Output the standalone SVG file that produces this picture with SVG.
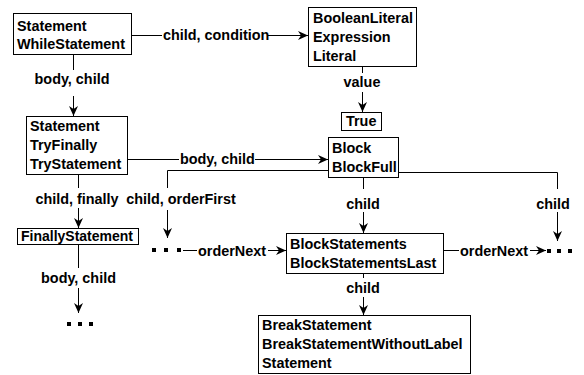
<svg xmlns="http://www.w3.org/2000/svg" width="584" height="375" viewBox="0 0 584 375">
<defs>
<marker id="ah" markerWidth="11" markerHeight="10" refX="10" refY="5" orient="auto" markerUnits="userSpaceOnUse">
<path d="M0,0.5 L10,5 L0,9.5 L3,5 z" fill="#000"/>
</marker>
<style>
text{font-family:"Liberation Sans",Arial,sans-serif;font-weight:bold;font-size:14.4px;fill:#000}
.m{text-anchor:middle}
rect.n{fill:#fff;stroke:#000;stroke-width:1}
.e{fill:none;stroke:#000;stroke-width:1}
.a{fill:none;stroke:#000;stroke-width:1;marker-end:url(#ah)}
.d{fill:#000}
</style>
</defs>
<rect width="584" height="375" fill="#fff"/>
<g id="connectors">
<line class="e" x1="131" y1="35.5" x2="162" y2="35.5"/>
<text x="163" y="40">child, condition</text>
<line class="a" x1="268" y1="35.5" x2="308" y2="35.5"/>
<line class="e" x1="73.5" y1="54" x2="73.5" y2="70"/>
<text class="m" x="72" y="84">body, child</text>
<line class="a" x1="73.5" y1="96" x2="73.5" y2="116"/>
<line class="e" x1="362.5" y1="67" x2="362.5" y2="73"/>
<text class="m" x="362" y="87">value</text>
<line class="a" x1="362.5" y1="92" x2="362.5" y2="112"/>
<line class="e" x1="127" y1="159.5" x2="179" y2="159.5"/>
<text x="180" y="164">body, child</text>
<line class="a" x1="255" y1="159.5" x2="328" y2="159.5"/>
<polyline class="e" points="328,170.5 167.5,170.5 167.5,188"/>
<text class="m" x="181" y="204">child, orderFirst</text>
<line class="a" x1="167.5" y1="210" x2="167.5" y2="238"/>
<line class="e" x1="78.5" y1="174" x2="78.5" y2="188"/>
<text class="m" x="77" y="204">child, finally</text>
<line class="a" x1="78.5" y1="208" x2="78.5" y2="228"/>
<line class="e" x1="78.5" y1="244" x2="78.5" y2="268"/>
<text class="m" x="78.5" y="283">body, child</text>
<line class="a" x1="78.5" y1="288" x2="78.5" y2="313"/>
<line class="e" x1="363.5" y1="177" x2="363.5" y2="189"/>
<text class="m" x="363" y="209">child</text>
<line class="a" x1="363.5" y1="212" x2="363.5" y2="233"/>
<polyline class="e" points="398,172.5 557.5,172.5 557.5,189"/>
<text class="m" x="553" y="209">child</text>
<line class="a" x1="557.5" y1="212" x2="557.5" y2="241"/>
<line class="e" x1="183" y1="250.5" x2="197" y2="250.5"/>
<text x="198" y="256">orderNext</text>
<line class="a" x1="268" y1="250.5" x2="286" y2="250.5"/>
<line class="e" x1="443" y1="250.5" x2="459" y2="250.5"/>
<text x="460" y="256">orderNext</text>
<line class="a" x1="530" y1="250.5" x2="546" y2="250.5"/>
<line class="e" x1="363.5" y1="273" x2="363.5" y2="278"/>
<text class="m" x="363" y="293">child</text>
<line class="a" x1="363.5" y1="297" x2="363.5" y2="315"/>
<rect class="d" x="152" y="248" width="4" height="4"/>
<rect class="d" x="164" y="248" width="4" height="4"/>
<rect class="d" x="177" y="248" width="4" height="4"/>
<rect class="d" x="547" y="249" width="4" height="4"/>
<rect class="d" x="557" y="249" width="4" height="4"/>
<rect class="d" x="568" y="249" width="4" height="4"/>
<rect class="d" x="67" y="322" width="4" height="4"/>
<rect class="d" x="78" y="322" width="4" height="4"/>
<rect class="d" x="89" y="322" width="4" height="4"/>
</g>
<g id="while">
<rect class="n" x="13.5" y="13.5" width="118" height="41"/>
<text x="17" y="31">Statement</text>
<text x="17" y="49">WhileStatement</text>
</g>
<g id="bool">
<rect class="n" x="308.5" y="7.5" width="108" height="59"/>
<text x="313" y="23">BooleanLiteral</text>
<text x="313" y="42">Expression</text>
<text x="313" y="61">Literal</text>
</g>
<g id="true">
<rect class="n" x="341.5" y="112.5" width="40" height="18"/>
<text x="346" y="126">True</text>
</g>
<g id="try">
<rect class="n" x="26.5" y="116.5" width="101" height="58"/>
<text x="30" y="131">Statement</text>
<text x="30" y="150">TryFinally</text>
<text x="30" y="169">TryStatement</text>
</g>
<g id="block">
<rect class="n" x="328.5" y="137.5" width="70" height="40"/>
<text x="332" y="153">Block</text>
<text x="332" y="172">BlockFull</text>
</g>
<g id="finally">
<rect class="n" x="17.5" y="228.5" width="121" height="16"/>
<text x="21" y="241" textLength="112" lengthAdjust="spacingAndGlyphs">FinallyStatement</text>
</g>
<g id="blockstatements">
<rect class="n" x="286.5" y="233.5" width="157" height="40"/>
<text x="290" y="249">BlockStatements</text>
<text x="290" y="268">BlockStatementsLast</text>
</g>
<g id="break">
<rect class="n" x="258.5" y="315.5" width="212" height="58"/>
<text x="262" y="330">BreakStatement</text>
<text x="262" y="349">BreakStatementWithoutLabel</text>
<text x="262" y="368">Statement</text>
</g>
</svg>
